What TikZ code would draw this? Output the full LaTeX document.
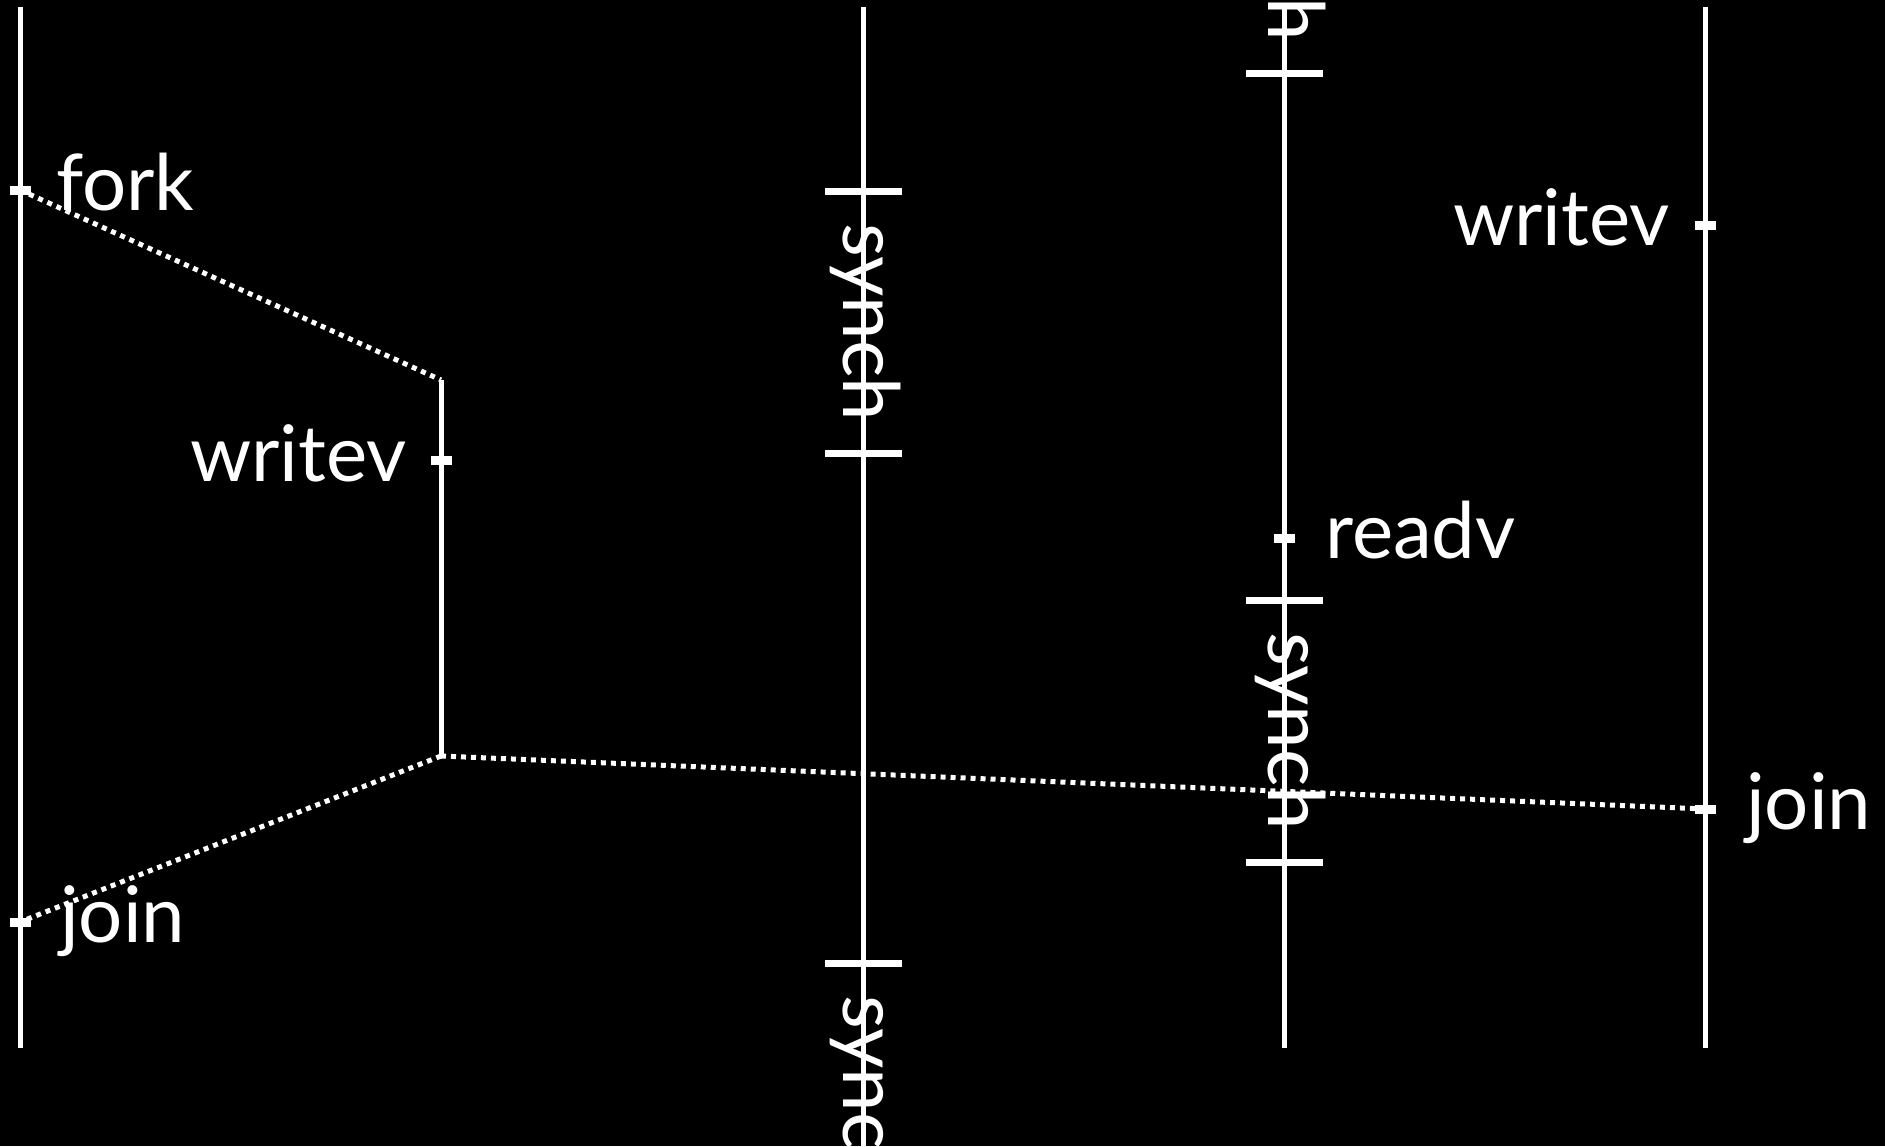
\documentclass[tikz,border=0pt]{standalone}
\usepackage{fontspec}
\setmainfont{Lato}
\begin{document}
\begin{tikzpicture}[x=1pt,y=-1pt,
  lifeline/.style={draw=white,line width=5pt},
  msgline/.style={draw=white,line width=5pt,dash pattern=on 5pt off 5pt},
  smalltick/.style={rectangle,fill=white,inner sep=0pt,minimum width=21pt,minimum height=9pt},
  brackettick/.style={rectangle,fill=white,inner sep=0pt,minimum width=77pt,minimum height=7pt},
  lbl/.style={text=white,inner sep=0pt,font=\fontsize{78}{90}\selectfont},
  vlbl/.style={lbl,rotate=-90,anchor=base}]
\useasboundingbox (0,0) rectangle (1885,1146);
\fill[black] (0,0) rectangle (1885,1146);
\clip (0,0) rectangle (1885,1146);
% coordinates
\coordinate (L1top) at (20,7);   \coordinate (L1bot) at (20,1048);
\coordinate (L2top) at (441,380); \coordinate (L2bot) at (441,756);
\coordinate (L3top) at (863,7);  \coordinate (L3bot) at (863,1146);
\coordinate (L4top) at (1284,7); \coordinate (L4bot) at (1284,1048);
\coordinate (L5top) at (1705,7); \coordinate (L5bot) at (1705,1048);
% dotted connectors
\coordinate (forkpt) at (20,190);
\coordinate (join1pt) at (20,922);
\coordinate (join2pt) at (1705,809);
\draw[msgline] (forkpt) -- (L2top);
\draw[msgline] (L2bot) -- (join1pt);
\draw[msgline] (L2bot) -- (join2pt);
% lifelines
\draw[lifeline] (L1top) -- (L1bot);
\draw[lifeline] (L2top) -- (L2bot);
\draw[lifeline] (L3top) -- (L3bot);
\draw[lifeline] (L4top) -- (L4bot);
\draw[lifeline] (L5top) -- (L5bot);
% small ticks
\node[smalltick] (tfork) at (forkpt) {};
\node[smalltick] (tjoin1) at (join1pt) {};
\node[smalltick] (twv1) at (441,460) {};
\node[smalltick] (treadv) at (1284,538) {};
\node[smalltick] (twv2) at (1705,225) {};
\node[smalltick] (tjoin2) at (join2pt) {};
% bracket ticks
\node[brackettick] (b1a) at (863,191) {};
\node[brackettick] (b1b) at (863,453) {};
\node[brackettick] (b2a) at (863,963) {};
\node[brackettick] (b3b) at (1284,73) {};
\node[brackettick] (b4a) at (1284,600) {};
\node[brackettick] (b4b) at (1284,862) {};
% labels
\node[lbl,anchor=base west] (lfork) at (56,210) {fork};
\node[lbl,anchor=base east] (lwv1) at (407,481) {writev};
\node[lbl,anchor=base west] (ljoin1) at (60,942) {join};
\node[lbl,anchor=base west] (lreadv) at (1325,558) {readv};
\node[lbl,anchor=base east] (lwv2) at (1670,245) {writev};
\node[lbl,anchor=base west] (ljoin2) at (1746,829) {join};
% rotated synch labels
\node[vlbl] (s1) at (843,322) {synch};
\node[vlbl] (s2) at (843,1094) {synch};
\node[vlbl] (s3) at (1268,-58) {synch};
\node[vlbl] (s4) at (1268,731) {synch};
\end{tikzpicture}
\end{document}
